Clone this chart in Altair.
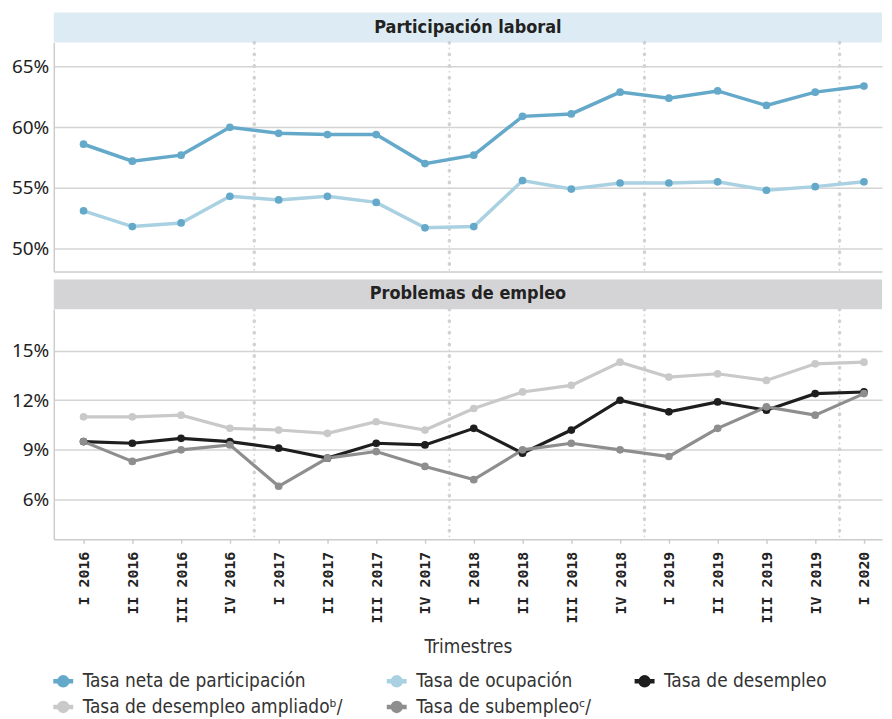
import altair as alt
import pandas as pd

quarters = ["I 2016", "II 2016", "III 2016", "IV 2016", "I 2017", "II 2017", "III 2017", "IV 2017",
            "I 2018", "II 2018", "III 2018", "IV 2018", "I 2019", "II 2019", "III 2019", "IV 2019", "I 2020"]

participacion = [58.6, 57.2, 57.7, 60.0, 59.5, 59.4, 59.4, 57.0, 57.7, 60.9, 61.1, 62.9, 62.4, 63.0, 61.8, 62.9, 63.4]
ocupacion = [53.1, 51.8, 52.1, 54.3, 54.0, 54.3, 53.8, 51.7, 51.8, 55.6, 54.9, 55.4, 55.4, 55.5, 54.8, 55.1, 55.5]
desempleo = [9.5, 9.4, 9.7, 9.5, 9.1, 8.5, 9.4, 9.3, 10.3, 8.8, 10.2, 12.0, 11.3, 11.9, 11.4, 12.4, 12.5]
ampliado = [11.0, 11.0, 11.1, 10.3, 10.2, 10.0, 10.7, 10.2, 11.5, 12.5, 12.9, 14.3, 13.4, 13.6, 13.2, 14.2, 14.3]
subempleo = [9.5, 8.3, 9.0, 9.3, 6.8, 8.5, 8.9, 8.0, 7.2, 9.0, 9.4, 9.0, 8.6, 10.3, 11.6, 11.1, 12.4]

series = ["Tasa neta de participación", "Tasa de ocupación", "Tasa de desempleo",
          "Tasa de desempleo ampliadoᵇ/", "Tasa de subempleoᶜ/"]
line_colors = ["#64a9c9", "#a9d1e2", "#1e1e1e", "#c9c9c9", "#8e8e8e"]
point_colors = ["#64a9c9", "#64a9c9", "#1e1e1e", "#c9c9c9", "#8e8e8e"]

panel_titles = ["Participación laboral", "Problemas de empleo"]
header_colors = ["#ddecf4", "#d4d4d6"]
year_breaks = [3.5, 7.5, 11.5, 15.5]
top_ticks = [50, 55, 60, 65]
bottom_ticks = [6, 9, 12, 15]

W = 832
FONT = "Liberation Sans Narrow, DejaVu Sans Condensed, Noto Sans, sans-serif"
NUM_FONT = "Noto Sans, sans-serif"

def long_df(names, arrays):
    rows = []
    for n, arr in zip(names, arrays):
        for i, v in enumerate(arr):
            rows.append({"idx": i, "trimestre": quarters[i], "serie": n, "valor": v})
    return pd.DataFrame(rows)

top_df = long_df(series[:2], [participacion, ocupacion])
bot_df = long_df([series[3], series[2], series[4]], [ampliado, desempleo, subempleo])
breaks_df = pd.DataFrame({"x": year_breaks})

label_js = "[" + ",".join("'" + q + "'" for q in quarters) + "][datum.value]"
xscale = alt.Scale(domain=[-0.61, 16.37], nice=False, zero=False)

sym_path = "M-1,0L1,0M-0.4,0A0.4,0.4 0 1,0 0.4,0A0.4,0.4 0 1,0 -0.4,0"
legend = alt.Legend(title=None, orient="none", legendX=-3, legendY=659, direction="horizontal",
                    columns=3, symbolType=sym_path, symbolSize=400,
                    symbolStrokeWidth=4.5, labelFontSize=19, labelFont=FONT, labelColor="#333333",
                    columnPadding=34, rowPadding=-6, labelOffset=7, labelLimit=400)

stroke_scale = alt.Scale(domain=series, range=line_colors)
fill_scale = alt.Scale(domain=series, range=point_colors)


def panel(df, ydomain, yticks, height, bottom):
    if bottom:
        xaxis = alt.Axis(values=list(range(len(quarters))), labelExpr=label_js, labelAngle=-90,
                         labelFont="DejaVu Sans Mono, monospace", labelFontWeight="bold", labelFontSize=15,
                         labelColor="#222222", ticks=True, tickSize=4, tickColor="#cccccc", tickWidth=1.5,
                         domainColor="#cccccc", domainWidth=1.5, grid=False, labelPadding=8,
                         title="Trimestres", titleFont=FONT, titleFontSize=19, titleFontWeight="normal",
                         titleColor="#333333", titlePadding=15)
    else:
        xaxis = alt.Axis(labels=False, ticks=False, grid=False, title=None,
                         domainColor="#cccccc", domainWidth=1.5)
    yaxis = alt.Axis(values=yticks, labelExpr="datum.value + '%'", title=None, ticks=False,
                     labelFont=NUM_FONT, labelFontSize=19, labelColor="#222222", labelPadding=5,
                     grid=True, gridColor="#d4d4d4", gridWidth=1.5, domainColor="#cccccc", domainWidth=1.5)
    base = alt.Chart(df)
    x = alt.X("idx:Q", scale=xscale, axis=xaxis)
    y = alt.Y("valor:Q", scale=alt.Scale(domain=ydomain, nice=False, zero=False), axis=yaxis)
    rules_big = alt.Chart(breaks_df).mark_rule(strokeDash=[0.5, 11.2], strokeCap="round",
                                                strokeWidth=3.5, color="#d2d2d2").encode(x=alt.X("x:Q", scale=xscale))
    rules_small = alt.Chart(breaks_df).mark_rule(strokeDash=[0.5, 11.2], strokeDashOffset=-5.85, strokeCap="round",
                                                  strokeWidth=1.5, color="#d2d2d2").encode(x=alt.X("x:Q", scale=xscale))
    lines = base.mark_line(strokeWidth=3.5 if not bottom else 3.2).encode(
        x=x, y=y,
        stroke=alt.Stroke("serie:N", scale=stroke_scale, legend=legend),
        detail="serie:N",
        order="idx:Q",
    )
    points = base.mark_point(filled=True, size=60, opacity=1).encode(
        x=x, y=y,
        fill=alt.Fill("serie:N", scale=fill_scale, legend=legend),
    )
    return alt.layer(rules_big, rules_small, lines, points).properties(width=W, height=height)


def header(title, color, height, gap):
    d = pd.DataFrame({"t": [title]})
    rect = alt.Chart(d).mark_rect(color=color).encode(
        x=alt.value(0), x2=alt.value(W), y=alt.value(gap), y2=alt.value(height))
    txt = alt.Chart(d).mark_text(font=FONT, fontSize=18, fontWeight="bold", color="#222222",
                                 baseline="middle", align="center").encode(
        text="t:N", x=alt.value(W / 2), y=alt.value(gap + (height - gap) / 2))
    return alt.layer(rect, txt).properties(width=W, height=height)


h1 = header(panel_titles[0], header_colors[0], 30, 0)
p1 = panel(top_df, [48.1, 67.0], top_ticks, 230, False)
h2 = header(panel_titles[1], header_colors[1], 38, 8)
p2 = panel(bot_df, [3.6, 17.5], bottom_ticks, 231, True)

chart = alt.vconcat(h1, p1, h2, p2, spacing=0, bounds="flush").resolve_scale(
    stroke="shared", fill="shared").properties(
    padding={"left": 3, "top": 3, "right": 2, "bottom": 0}
).configure_view(stroke=None)

chart.save("out.html", embed_options={"renderer": "svg", "actions": False})
